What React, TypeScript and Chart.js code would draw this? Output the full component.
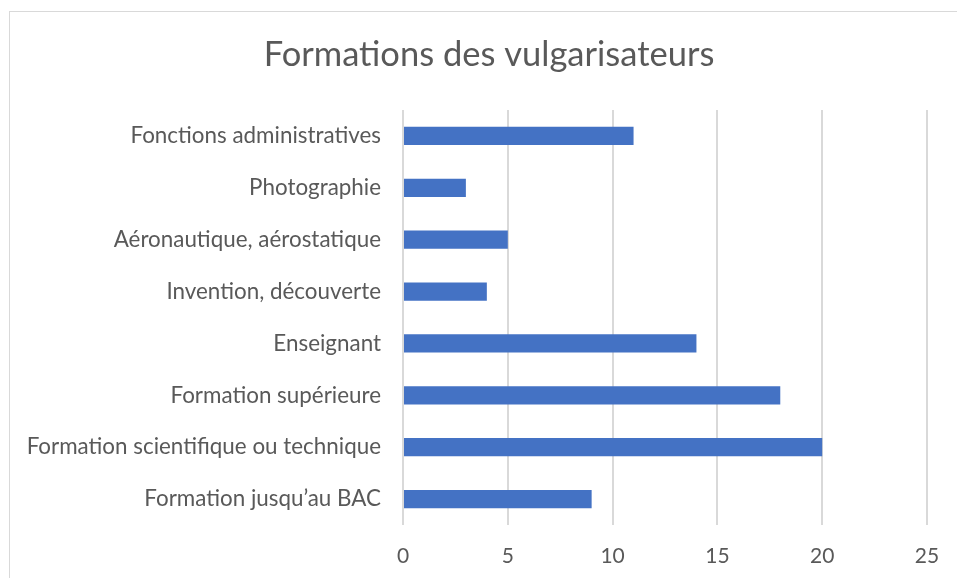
import React, { useEffect, useRef } from "react";
import { Chart, registerables } from "chart.js";

Chart.register(...registerables);

const categories = [
  "Fonctions administratives",
  "Photographie",
  "Aéronautique, aérostatique",
  "Invention, découverte",
  "Enseignant",
  "Formation supérieure",
  "Formation scientifique ou technique",
  "Formation jusqu’au BAC",
];
const values = [11, 3, 5, 4, 14, 18, 20, 9];
const chartTitle = "Formations des vulgarisateurs";
const xMin = 0;
const xMax = 25;
const xStep = 5;

const FONT = "Lato, 'Noto Sans', sans-serif";
const TEXT = "#595959";

export default function App() {
  const ref = useRef<HTMLCanvasElement | null>(null);
  useEffect(() => {
    if (!ref.current) return;
    const chart = new Chart(ref.current, {
      type: "bar",
      data: {
        labels: categories,
        datasets: [
          {
            data: values,
            backgroundColor: "#4472C4",
            borderWidth: 0,
            categoryPercentage: 0.7,
            barPercentage: 0.5,
          },
        ],
      },
      options: {
        indexAxis: "y",
        animation: false,
        responsive: false,
        maintainAspectRatio: false,
        layout: { padding: { left: 0, right: 0, top: 0, bottom: 2 } },
        plugins: {
          legend: { display: false },
          tooltip: { enabled: false },
          title: {
            display: true,
            text: chartTitle,
            color: TEXT,
            font: { family: FONT, size: 34.5, weight: "normal" },
            padding: { top: 22, bottom: 34.6 },
          },
        },
        scales: {
          x: {
            min: xMin,
            max: xMax,
            ticks: {
              stepSize: xStep,
              color: TEXT,
              font: { family: FONT, size: 21 },
              padding: 19,
            },
            grid: { color: "#d9d9d9", lineWidth: 2, drawTicks: false },
            border: { display: false },
            afterFit: (scale: any) => {
              scale.paddingRight = 41;
              scale.height = 65;
            },
          },
          y: {
            ticks: {
              color: TEXT,
              font: { family: FONT, size: 22.4 },
              padding: 22,
            },
            grid: { display: false, drawTicks: false },
            border: { display: false },
            afterFit: (scale: any) => {
              scale.width = 393;
            },
          },
        },
      },
    });
    return () => chart.destroy();
  }, []);
  return (
    <div style={{ position: "fixed", left: 0, top: 0, width: 957, height: 578, overflow: "hidden", background: "#fff" }}>
      <div
        style={{
          position: "absolute",
          left: 9,
          top: 11,
          width: 960,
          height: 600,
          border: "1px solid #d9d9d9",
          boxSizing: "border-box",
        }}
      />
      <canvas
        ref={ref}
        width={958}
        height={580}
        style={{ position: "absolute", left: 10, top: 12, width: 958, height: 580 }}
      />
    </div>
  );
}
